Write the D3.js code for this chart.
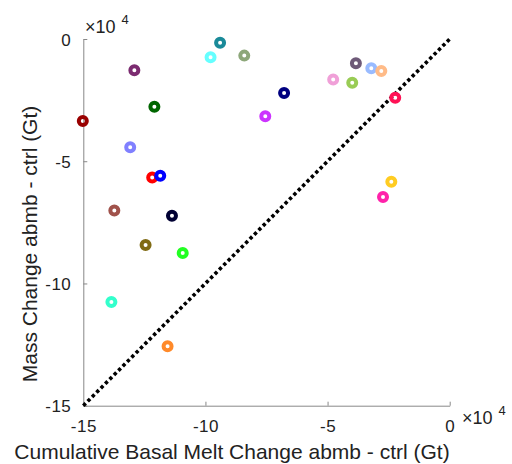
<!DOCTYPE html>
<html>
<head>
<meta charset="utf-8">
<script src="https://cdn.jsdelivr.net/npm/d3@7"></script>
<style>
  body { margin: 0; background: #fff; }
  text { font-family: "Liberation Sans", Arial, Helvetica, sans-serif; fill: #222; }
</style>
</head>
<body>
<div id="chart"></div>
<script>
// cumulative basal melt change (Gt) and mass change (Gt), one entry per run
const meltChange = [-150200, -129100, -130800, -121800, -118500, -137300, -113700, -124500, -109300, -138500, -115500,
  -120900, -97900, -94000, -84100, -75500, -67800, -47700, -39900, -38400, -32100, -28000, -22300, -23900, -27300];
const massChange = [-33500, -12800, -44300, -56700, -55900, -70200, -72300, -84300, -87500, -107600, -125700,
  -27700, -7500, -1500, -6800, -31600, -22100, -16600, -17900, -9900, -12000, -13100, -24000, -58400, -64600];
const runColors = ['#990000', '#7b2b70', '#8080ff', '#ff0000', '#0000ff', '#a0524b', '#000033', '#806b14', '#22ff22', '#33ffcc', '#ff8a2a',
  '#006600', '#66ffff', '#1a8a99', '#8da77a', '#cc33ff', '#000080', '#f0a0d8', '#99cc55', '#6e5a78', '#99bbff', '#ffbb88', '#ff1155', '#ffcc22', '#ff22aa'];
const tickValues = [-150000, -100000, -50000, 0];

const width = 512, height = 464;
const svg = d3.select('#chart').append('svg')
  .attr('width', width)
  .attr('height', height);

const x = d3.scaleLinear().domain([-150000, 0]).range([83.3, 449.7]);
const y = d3.scaleLinear().domain([-150000, 0]).range([405.7, 39]);
const fmt = d => d / 1e4;

// axes (MATLAB style: ticks inward, no box)
const xAxis = svg.append('g')
  .attr('transform', `translate(0,${y(-150000)})`)
  .call(d3.axisBottom(x).tickValues(tickValues).tickFormat(fmt).tickSizeInner(-4).tickSizeOuter(0).tickPadding(14));
const yAxis = svg.append('g')
  .attr('transform', `translate(${x(-150000)},0)`)
  .call(d3.axisLeft(y).tickValues(tickValues).tickFormat(fmt).tickSizeInner(-4).tickSizeOuter(0).tickPadding(12));

[xAxis, yAxis].forEach(g => {
  g.select('.domain').attr('stroke', '#888').attr('stroke-width', 1);
  g.selectAll('.tick line').attr('stroke', '#888');
  g.selectAll('.tick text').style('font-size', '17px').style('letter-spacing', '0.5px').attr('fill', '#222');
});
yAxis.selectAll('.tick text').attr('dy', '0.36em');

// 1:1 line
svg.append('line')
  .attr('x1', x(-150000)).attr('y1', y(-150000))
  .attr('x2', x(0)).attr('y2', y(0))
  .attr('stroke', '#000')
  .attr('stroke-width', 3.6)
  .attr('stroke-dasharray', '3.4 2.8');

// markers
svg.selectAll('circle.run')
  .data(meltChange)
  .enter().append('circle')
  .attr('class', 'run')
  .attr('cx', d => x(d))
  .attr('cy', (d, i) => y(massChange[i]))
  .attr('r', 4)
  .attr('fill', 'none')
  .attr('stroke', (d, i) => runColors[i])
  .attr('stroke-width', 4);

// exponent labels
const expo = (px, py) => {
  const t = svg.append('text').attr('x', px).attr('y', py).style('font-size', '18px');
  t.append('tspan').style('font-weight', '300').text('\u00d7');
  t.append('tspan').text('10');
  t.append('tspan').attr('dy', -9).attr('dx', 6).style('font-size', '13px').text('4');
};
expo(85, 33);
expo(462, 424);

// axis labels
svg.append('text')
  .attr('x', 232).attr('y', 459)
  .attr('text-anchor', 'middle')
  .style('font-size', '21px')
  .text('Cumulative Basal Melt Change abmb - ctrl (Gt)');

svg.append('text')
  .attr('transform', 'translate(37,244) rotate(-90)')
  .attr('text-anchor', 'middle')
  .style('font-size', '21px')
  .text('Mass Change abmb - ctrl (Gt)');
</script>
</body>
</html>
